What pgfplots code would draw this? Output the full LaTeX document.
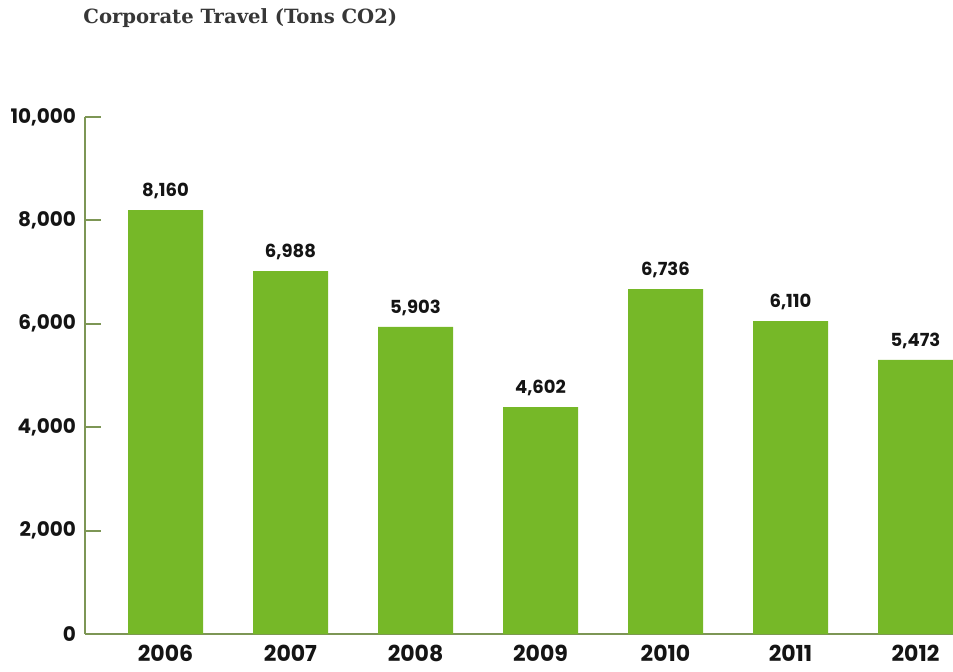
\documentclass[border=0pt]{standalone}
\usepackage{fontspec}
\setmainfont{Poppins}
\newfontfamily\titlefont{DejaVu Serif}
\usepackage{pgfplots}
\pgfplotsset{compat=1.18}
\usepackage{pgfplotstable}
\definecolor{bargreen}{RGB}{118,184,40}
\definecolor{axisgreen}{RGB}{125,150,85}
\definecolor{txt}{RGB}{20,20,20}
\pgfplotstableread{
x h v
0 8200 8160
1 7020 6988
2 5940 5903
3 4390 4602
4 6670 6736
5 6050 6110
6 5300 5473
}\co
\begin{document}
\begin{tikzpicture}
\useasboundingbox (-42.5pt,-18.5pt) rectangle (434pt,317pt);
\begin{axis}[
  scale only axis,
  width=434pt, height=258.5pt,
  xmin=-0.644, xmax=6.3,
  ymin=0, ymax=10000,
  axis x line*=bottom, axis y line*=left,
  axis line style={axisgreen, line width=1pt},
  ytick={0,2000,4000,6000,8000,10000},
  scaled y ticks=false,
  /pgf/number format/assume math mode=true,
  /pgf/number format/fixed,
  /pgf/number format/precision=0,
  /pgf/number format/1000 sep={,},
  yticklabel style={font=\fontsize{10}{12}\selectfont\bfseries, text=txt, xshift=-1pt},
  tick align=inside,
  major tick length=8pt,
  ytick style={axisgreen, line width=1pt},
  xtick=data,
  xticklabels={2006,2007,2008,2009,2010,2011,2012},
  xtick style={draw=none},
  xticklabel style={font=\fontsize{11}{13}\selectfont\bfseries, text=txt, yshift=-2pt},
  clip=false,
]
\addplot[ybar, bar width=37.5pt, fill=bargreen, draw=none,
  point meta=explicit,
  nodes near coords={\pgfmathprintnumber{\pgfplotspointmeta}},
  every node near coord/.style={anchor=south, inner sep=0pt, yshift=5.5pt,
    font=\fontsize{9}{11}\selectfont\bfseries, text=txt}
] table[x=x, y=h, meta=v] {\co};
\end{axis}
\node[anchor=west, inner sep=0pt, font=\titlefont\bfseries\fontsize{9.8}{11}\selectfont, text=txt!85] at (-1pt,308pt) {Corporate Travel (Tons CO2)};
\end{tikzpicture}
\end{document}
